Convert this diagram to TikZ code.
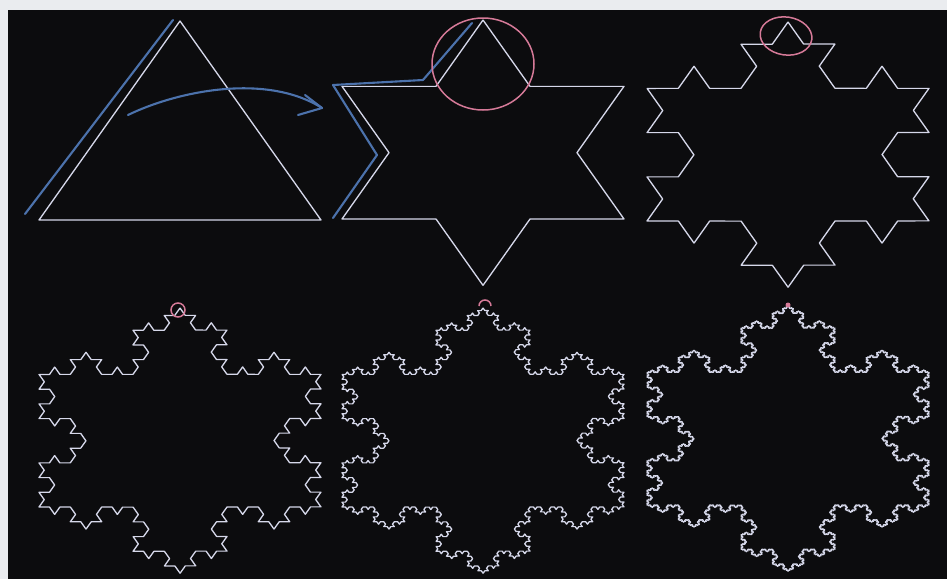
\documentclass[tikz,border=0pt]{standalone}
\usetikzlibrary{decorations.fractals}
\definecolor{frame}{RGB}{234,236,239}
\definecolor{board}{RGB}{12,12,14}
\definecolor{chalk}{RGB}{214,216,234}
\definecolor{penblue}{RGB}{76,114,172}
\definecolor{penpink}{RGB}{214,122,152}

\begin{document}
\begin{tikzpicture}[x=1pt, y=-1pt,
  flake/.style={draw=chalk, line width=1.4pt, line join=round, line cap=round},
  pen/.style={draw=penblue, line width=2.1pt, line cap=round, line join=round},
  ring/.style={draw=penpink, line width=1.5pt},
  decoration=Koch snowflake]
\fill[frame] (0,0) rectangle (947,579);
\fill[board] (8,10) rectangle (947,579);
\useasboundingbox (0,0) rectangle (947,579);

% snowflakes, squashed vertically like the screen
\begin{scope}[transform canvas={yscale=0.815}, y=-1.227pt]
  \draw[flake] (180,21) -- ++(141,199) -- ++(-282,0) -- cycle;
  \draw[flake] decorate{(483,20) -- ++(141,199) -- ++(-282,0) -- ++(141,-199)};
  \draw[flake] decorate{decorate{(788,22) -- ++(141,199) -- ++(-282,0) -- ++(141,-199)}};
  \draw[flake] decorate{decorate{decorate{(180,308) -- ++(141,199) -- ++(-282,0) -- ++(141,-199)}}};
  \draw[flake] decorate{decorate{decorate{decorate{(483,308) -- ++(141,199) -- ++(-282,0) -- ++(141,-199)}}}};
  \draw[flake] decorate{decorate{decorate{decorate{decorate{(788,306) -- ++(141,199) -- ++(-282,0) -- ++(141,-199)}}}}};
\end{scope}

% blue pen strokes
\draw[pen] (25,214) -- (173,20);
\draw[pen] (128,115) .. controls (175,92) and (265,72) .. (322,108);
\draw[pen] (305,95) -- (322,108) -- (298,115);
\draw[pen] (333,218) -- (377,155) -- (333,85) -- (423,80) -- (472,23);

% pink marks round the top spikes
\draw[ring] (483,64) ellipse [x radius=51, y radius=46];
\draw[ring, rotate around={-8:(786,36)}] (786,36) ellipse [x radius=26, y radius=19];
\draw[ring] (178,310) circle (7);
\draw[ring] (479,306) arc[start angle=180, end angle=360, radius=6];
\fill[penpink] (788,305) circle (2.5);
\end{tikzpicture}
\end{document}
